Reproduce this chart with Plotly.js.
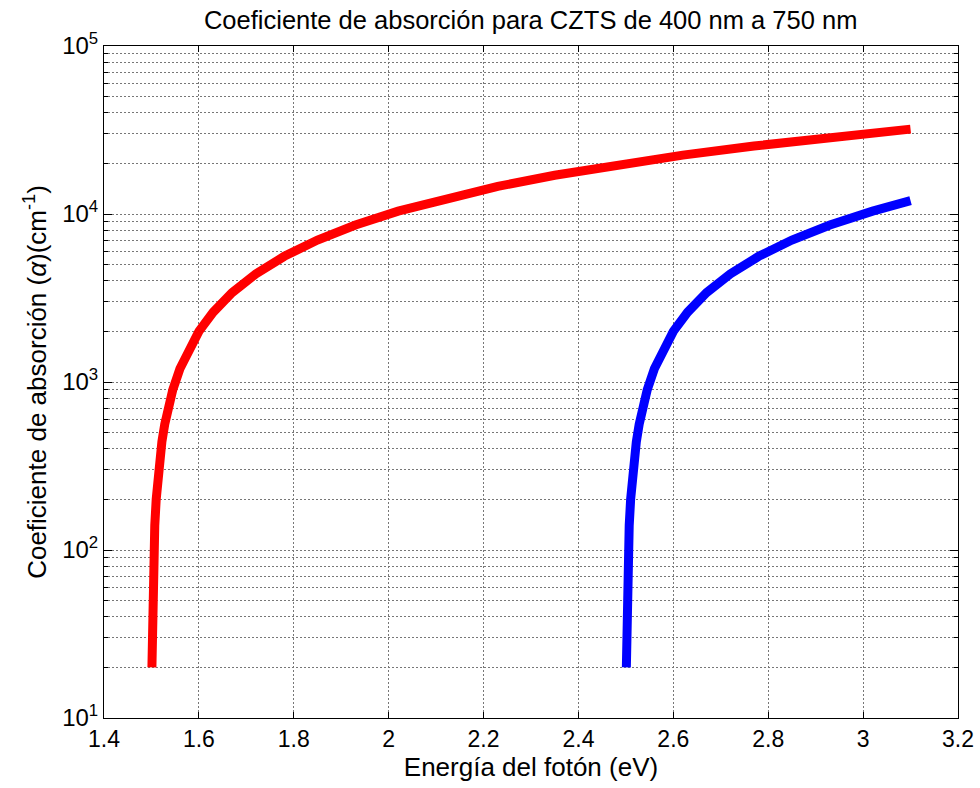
<!DOCTYPE html>
<html>
<head>
<meta charset="utf-8">
<script src="https://cdn.plot.ly/plotly-3.0.1.min.js"></script>
<style>
  html, body { margin: 0; padding: 0; background: #fff; }
  #chart { width: 980px; height: 788px; }
</style>
</head>
<body>
<div id="chart"></div>
<script>
// Photon energy (eV) and absorption coefficient (cm^-1), CZTS
const energiaRojo = [1.5010, 1.5015, 1.5020, 1.5030, 1.5040, 1.5050, 1.5070, 1.5100, 1.5130, 1.5170,
                     1.5220, 1.5280, 1.5350, 1.5450, 1.5600, 1.5800, 1.6000, 1.6300, 1.6700, 1.7200,
                     1.7800, 1.8500, 1.9300, 2.0200, 2.1200, 2.2300, 2.3500, 2.4800, 2.6200, 2.7700,
                     2.9300, 3.1000];
const alfaRojo    = [20, 30, 40, 60, 80, 100, 140, 200, 260, 340,
                     440, 560, 700, 900, 1200, 1600, 2000, 2600, 3400, 4400,
                     5600, 7000, 8600, 10400, 12400, 14600, 17000, 19600, 22400, 25400,
                     28600, 32000];

const energiaAzul = [2.5010, 2.5015, 2.5020, 2.5030, 2.5040, 2.5050, 2.5070, 2.5100, 2.5130, 2.5170,
                     2.5220, 2.5280, 2.5350, 2.5450, 2.5600, 2.5800, 2.6000, 2.6300, 2.6700, 2.7200,
                     2.7800, 2.8500, 2.9300, 3.0200, 3.1000];
const alfaAzul    = [20, 30, 40, 60, 80, 100, 140, 200, 260, 340,
                     440, 560, 700, 900, 1200, 1600, 2000, 2600, 3400, 4400,
                     5600, 7000, 8600, 10400, 12000];

// Axis ticks
const xTicks = [1.4, 1.6, 1.8, 2, 2.2, 2.4, 2.6, 2.8, 3, 3.2];
const xTickText = ['1.4', '1.6', '1.8', '2', '2.2', '2.4', '2.6', '2.8', '3', '3.2'];
const yDecades = [10, 100, 1000, 10000, 100000];
const yDecadeText = ['10<sup>1</sup>', '10<sup>2</sup>', '10<sup>3</sup>', '10<sup>4</sup>', '10<sup>5</sup>'];
const yMinor = [];
for (const d of [10, 100, 1000, 10000]) {
  for (let k = 2; k <= 9; k++) yMinor.push(k * d);
}

const gridStyle = { gridcolor: '#777', griddash: '2px,2px', gridwidth: 1 };

const traces = [
  {
    x: energiaRojo, y: alfaRojo, type: 'scatter', mode: 'lines',
    line: { color: '#ff0000', width: 9 }, hoverinfo: 'skip', showlegend: false
  },
  {
    x: energiaAzul, y: alfaAzul, type: 'scatter', mode: 'lines',
    line: { color: '#0000ff', width: 9 }, hoverinfo: 'skip', showlegend: false
  }
];

const layout = {
  width: 980, height: 788,
  margin: { l: 104, r: 22, t: 46, b: 70 },
  paper_bgcolor: '#fff', plot_bgcolor: '#fff',
  font: { family: 'Liberation Sans, Arial, sans-serif', color: '#000', size: 22 },
  showlegend: false,
  title: {
    text: 'Coeficiente de absorción para CZTS de 400 nm a 750 nm',
    font: { size: 25.5, color: '#000' },
    x: 0.5415, xanchor: 'center', y: 0.975, yanchor: 'middle'
  },
  xaxis: {
    range: [1.4, 3.2], tickmode: 'array', tickvals: xTicks, ticktext: xTickText,
    ticks: 'inside', ticklen: 6, tickcolor: '#000',
    showline: true, linecolor: '#000', linewidth: 1, mirror: 'ticks',
    showgrid: true, ...gridStyle, zeroline: false,
    tickfont: { size: 23 },
    title: { text: 'Energía del fotón (eV)', font: { size: 26 }, standoff: 6 }
  },
  yaxis: {
    type: 'log', range: [1, 5], tickmode: 'array', tickvals: yDecades, ticktext: yDecadeText,
    ticks: 'inside', ticklen: 8, tickcolor: '#000',
    showline: true, linecolor: '#000', linewidth: 1, mirror: 'ticks',
    showgrid: true, ...gridStyle, zeroline: false,
    tickfont: { size: 24 },
    minor: {
      tickmode: 'array', tickvals: yMinor, ticks: 'inside', ticklen: 4, tickcolor: '#000',
      showgrid: true, ...gridStyle
    },
    title: { text: 'Coeficiente de absorción (<i>α</i>)(cm<sup>-1</sup>)', font: { size: 26 }, standoff: 8 }
  }
};

Plotly.newPlot('chart', traces, layout, { staticPlot: true, displayModeBar: false });
</script>
</body>
</html>
